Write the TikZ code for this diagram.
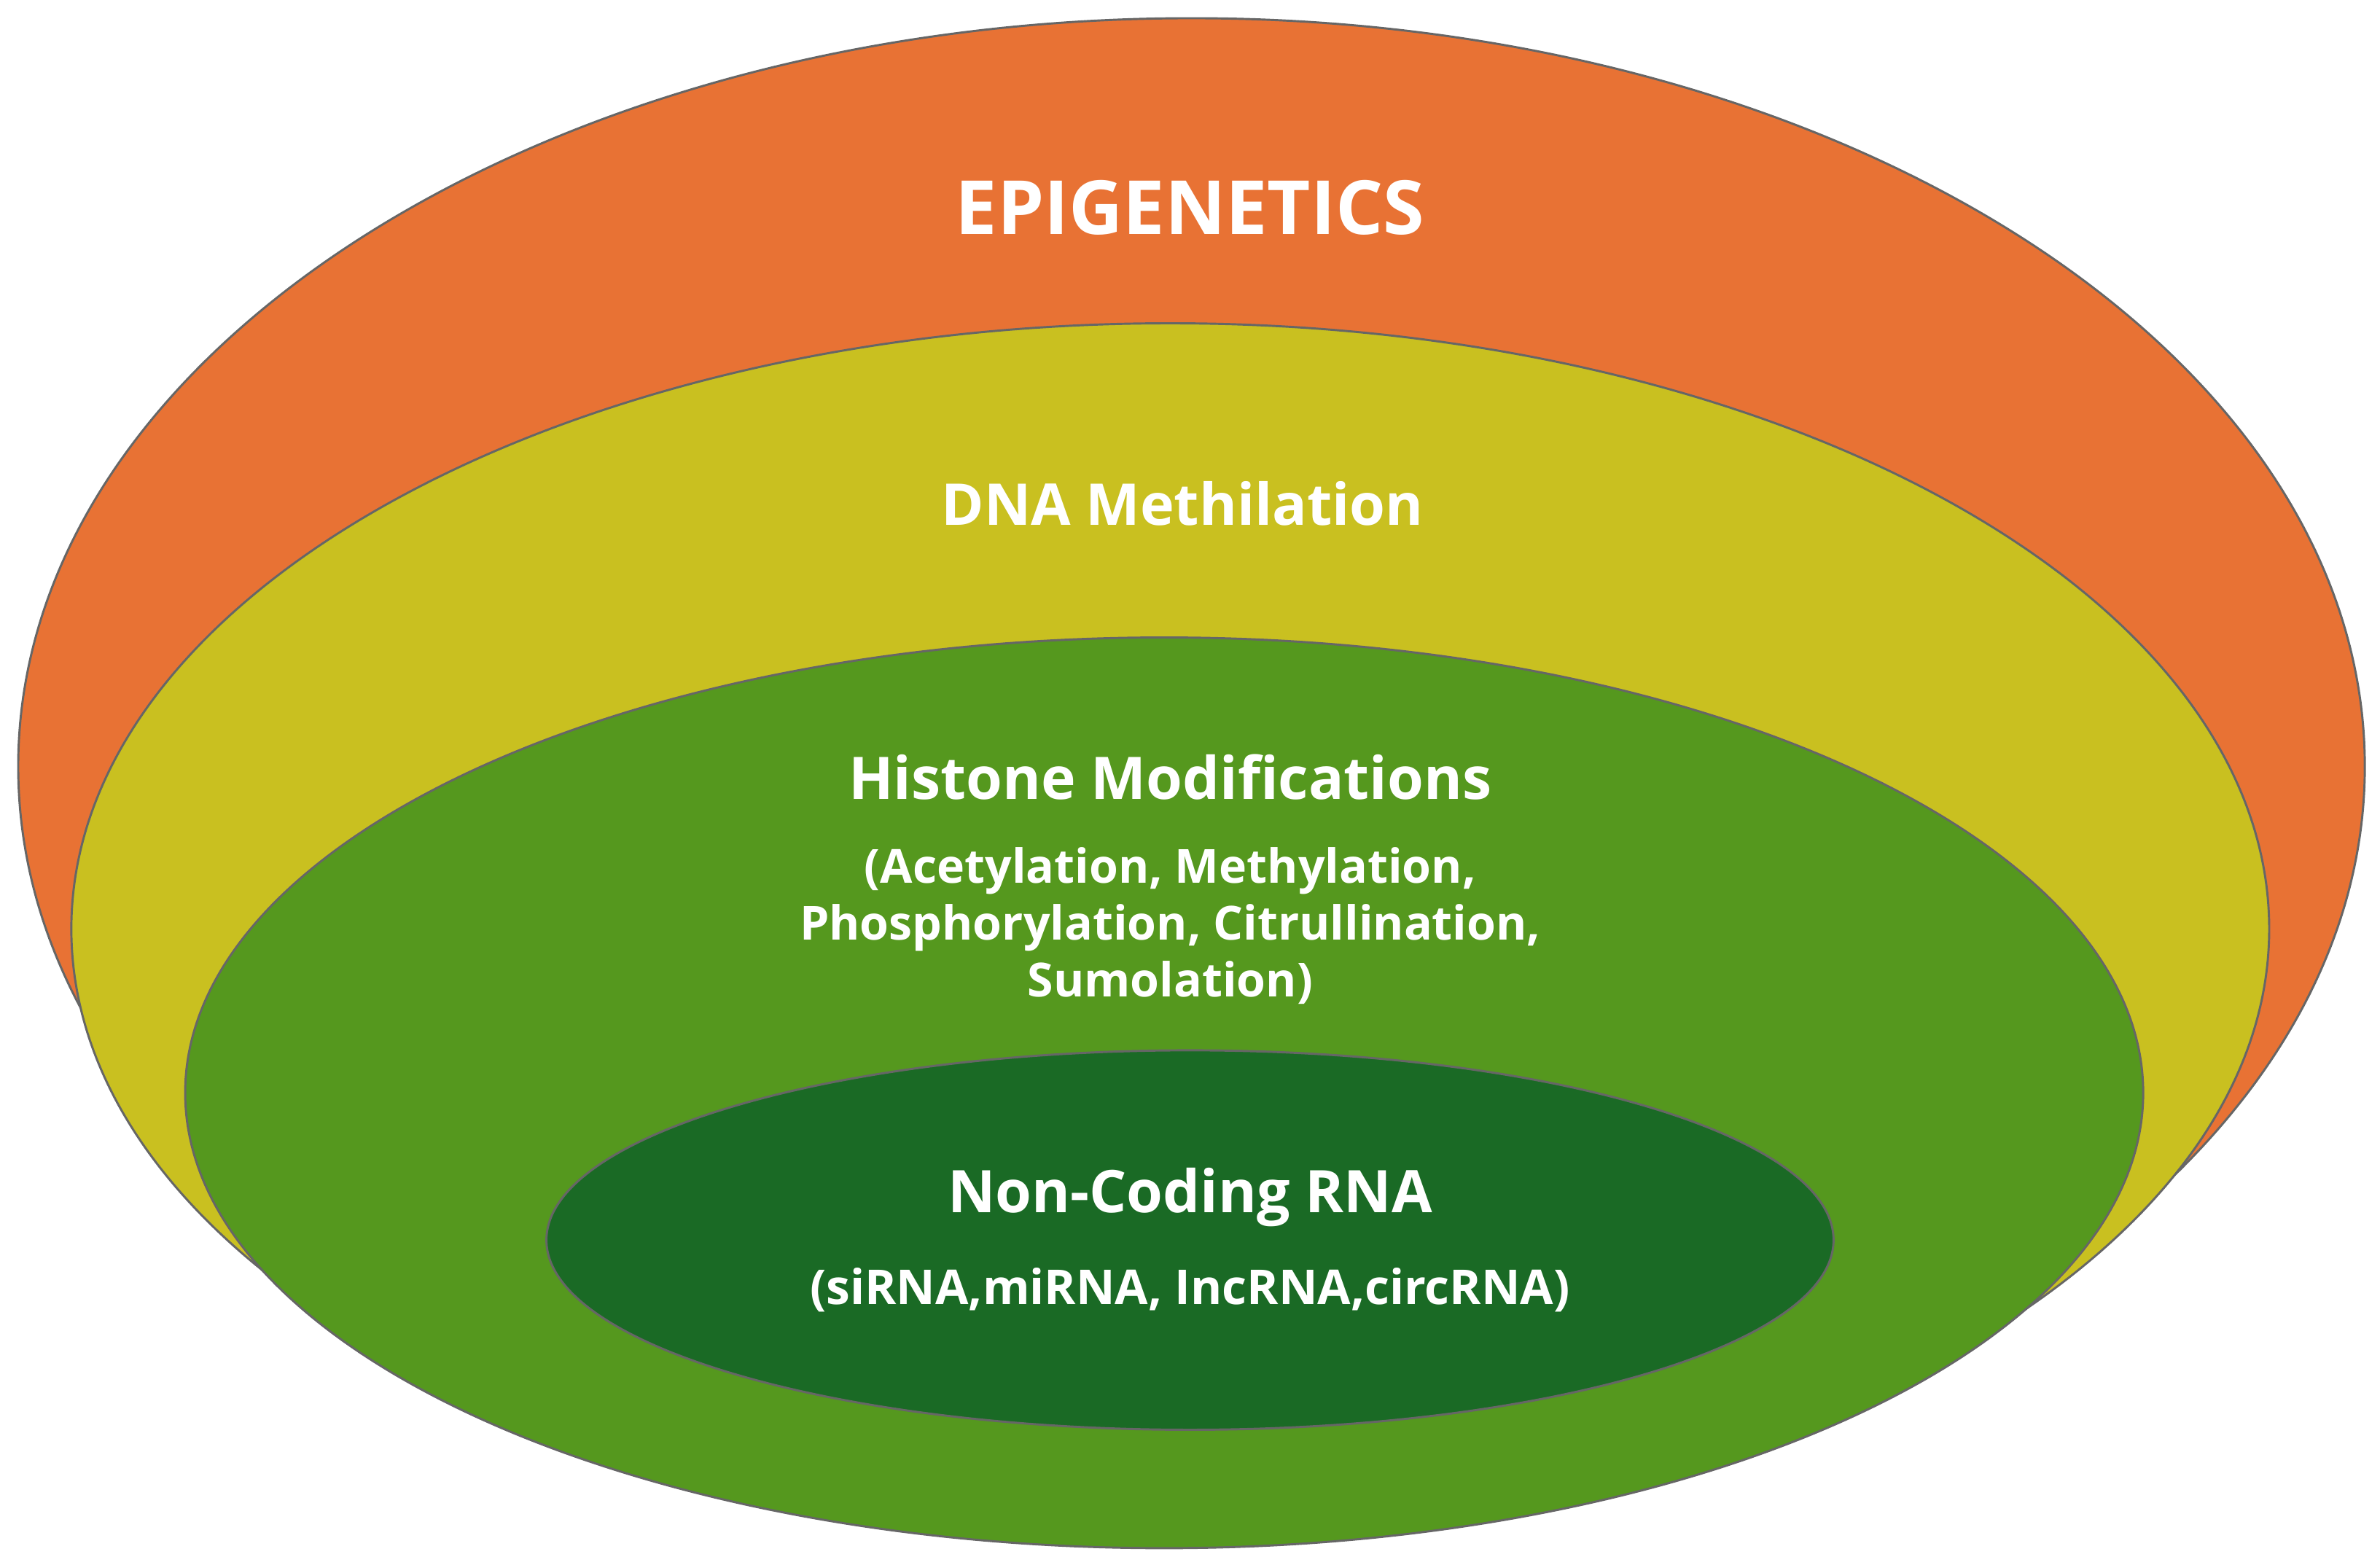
\documentclass[tikz,border=0pt]{standalone}
\usepackage{fontspec}
\setmainfont{Open Sans}
\definecolor{cor}{HTML}{E87234}
\definecolor{cye}{HTML}{C9C020}
\definecolor{cgr}{HTML}{55981E}
\definecolor{cdg}{HTML}{1A6A25}
\begin{document}
\begin{tikzpicture}[x=0.01cm,y=-0.01cm,
  ring/.style={draw=black!60,line width=0.4pt},
  lbl/.style={text=white,font=\bfseries,align=center}]
\useasboundingbox (0,0) rectangle (1568,1031);
\fill[ring,fill=cor] (785,505) ellipse [x radius=773,y radius=493];
\fill[ring,fill=cye] (771,612) ellipse [x radius=724,y radius=399];
\fill[ring,fill=cgr] (767,720) ellipse [x radius=645,y radius=300];
\fill[ring,fill=cdg] (784,817) ellipse [x radius=424,y radius=125];
\node[lbl,font=\bfseries\fontsize{14}{16}\selectfont] (epi) at (784,137) {EPIGENETICS};
\node[lbl,font=\bfseries\fontsize{10.8}{12}\selectfont] (dna) at (779,332) {DNA Methilation};
\node[lbl,font=\bfseries\fontsize{11}{13}\selectfont] (his) at (771,512) {Histone Modifications};
\node[lbl,font=\bfseries\fontsize{8.8}{10.6}\selectfont] (hisd) at (771,610) {(Acetylation, Methylation,\\Phosphorylation, Citrullination,\\Sumolation)};
\node[lbl,font=\bfseries\fontsize{11}{13}\selectfont] (ncr) at (784,789) {Non-Coding RNA};
\node[lbl,font=\bfseries\fontsize{9}{11}\selectfont] (ncrd) at (784,850) {(siRNA,miRNA, IncRNA,circRNA)};
\end{tikzpicture}
\end{document}
